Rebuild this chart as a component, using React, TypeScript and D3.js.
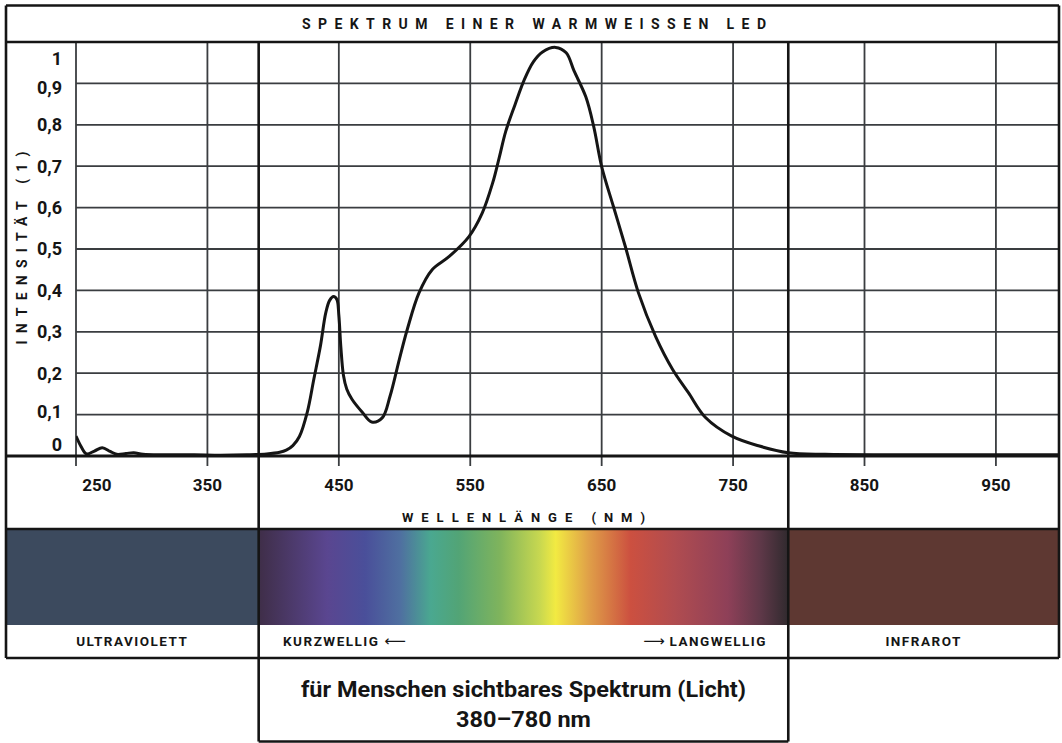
import React from 'react';
import * as d3 from 'd3';

// spectrum of a warm white LED
const wavelengths = [
	250, 254, 258, 264, 270, 276, 281, 288, 294, 301,
	320, 340, 360, 380, 395, 405, 410, 415, 420, 426,
	431, 436, 440, 443, 446, 448.5, 450, 451.5, 453.5, 456,
	460, 468, 475, 483, 489, 496, 502, 511, 521, 534,
	549, 559, 567, 572, 577, 584, 591, 598, 605, 615,
	623, 629, 638, 644, 650, 659, 668, 678, 691, 704,
	716, 729, 749, 770, 792, 820, 870, 920, 998,
];
const intensities = [
	0.048, 0.022, 0.005, 0.012, 0.02, 0.011, 0.004, 0.006, 0.008, 0.004,
	0.003, 0.003, 0.002, 0.003, 0.005, 0.009, 0.014, 0.025, 0.047, 0.106,
	0.186, 0.266, 0.345, 0.376, 0.385, 0.378, 0.34, 0.265, 0.195, 0.162,
	0.137, 0.105, 0.082, 0.092, 0.145, 0.233, 0.305, 0.394, 0.45, 0.482,
	0.53, 0.586, 0.659, 0.72, 0.784, 0.848, 0.908, 0.952, 0.976, 0.987,
	0.974, 0.93, 0.867, 0.795, 0.699, 0.602, 0.506, 0.394, 0.289, 0.209,
	0.153, 0.093, 0.048, 0.024, 0.008, 0.004, 0.003, 0.003, 0.003,
];

const xTicks = [250, 350, 450, 550, 650, 750, 850, 950];
const yTicks = [0, 0.1, 0.2, 0.3, 0.4, 0.5, 0.6, 0.7, 0.8, 0.9, 1];
const yTickLabels = ['0', '0,1', '0,2', '0,3', '0,4', '0,5', '0,6', '0,7', '0,8', '0,9', '1'];

// visible band as drawn in the picture
const visibleFrom = 389;
const visibleTo = 792;

const spectrumWl = [389, 441, 470, 497, 520, 541, 573, 603, 615, 640, 672, 706, 746, 771, 792];
const spectrumColors = [
	'#3f2e48', '#5a4690', '#4a4f9a', '#4f70a0', '#4aa890', '#52a476', '#80b45c', '#c8d850',
	'#f2ea42', '#e0a048', '#cc5040', '#b04c50', '#8e4058', '#5e3848', '#302a2e',
];

const W = 1062;
const H = 743;
const left = 6;
const right = 1059;
const top = 5.5;
const titleBottom = 42;
const axisY = 456;
const plotLeft = 76;
const barTop = 529;
const barBottom = 625;
const rowBottom = 658;
const boxBottom = 741.5;

const font = 'Roboto, sans-serif';
const ink = '#151515';
const grid = '#3a3d40';

export default function App() {
	const x = d3.scaleLinear().domain([250, 998]).range([plotLeft, right]);
	const y = d3.scaleLinear().domain([0, 1]).range([axisY, titleBottom]);

	const points: [number, number][] = wavelengths.map((w, i) => [w, intensities[i]]);
	const line = d3
		.line<[number, number]>()
		.x(d => x(d[0]))
		.y(d => y(d[1]))
		.curve(d3.curveCatmullRom.alpha(0.5));

	const vx0 = x(visibleFrom);
	const vx1 = x(visibleTo);
	const labelY = (v: number) => Math.max(59, Math.min(445, y(v) + (v === 0.9 ? 4 : v === 0.1 ? -3 : 0)));

	return (
		<svg width={W} height={H} style={{ position: 'absolute', left: 0, top: 0 }} fontFamily={font}>
			<defs>
				<linearGradient id="spec" gradientUnits="userSpaceOnUse" x1={vx0} x2={vx1} y1={0} y2={0}>
					{spectrumWl.map((w, i) => (
						<stop key={i} offset={(w - visibleFrom) / (visibleTo - visibleFrom)} stopColor={spectrumColors[i]} />
					))}
				</linearGradient>
				<clipPath id="plotclip">
					<rect x={plotLeft} y={titleBottom} width={right - plotLeft} height={axisY - titleBottom} />
				</clipPath>
			</defs>
			<rect x={0} y={0} width={W} height={H} fill="#fff" />

			{/* colour band */}
			<rect x={left} y={barTop} width={vx0 - left} height={barBottom - barTop} fill="#3c4a5e" />
			<rect x={vx0} y={barTop} width={vx1 - vx0} height={barBottom - barTop} fill="url(#spec)" />
			<rect x={vx1} y={barTop} width={right - vx1} height={barBottom - barTop} fill="#5e3832" />

			{/* grid */}
			{yTicks.filter(v => v > 0 && v < 1).map(v => (
				<line key={v} x1={plotLeft} x2={right} y1={y(v)} y2={y(v)} stroke={grid} strokeWidth={1.8} />
			))}
			{xTicks.map(t => (
				<line key={t} x1={x(t)} x2={x(t)} y1={titleBottom} y2={axisY + 10} stroke={grid} strokeWidth={1.8} />
			))}

			{/* curve */}
			<path d={line(points) || ''} fill="none" stroke={ink} strokeWidth={3} strokeLinejoin="round" clipPath="url(#plotclip)" />

			{/* frame */}
			<g stroke={ink} strokeWidth={2.6} fill="none">
				<line x1={left} x2={right} y1={top} y2={top} />
				<line x1={left} x2={right} y1={titleBottom} y2={titleBottom} />
				<line x1={left} x2={right} y1={axisY} y2={axisY} strokeWidth={3} />
				<line x1={left} x2={right} y1={barTop} y2={barTop} />
				<line x1={left} x2={right} y1={rowBottom} y2={rowBottom} />
				<line x1={vx0} x2={vx1} y1={boxBottom} y2={boxBottom} />
				<line x1={left} x2={left} y1={top} y2={rowBottom} />
				<line x1={right} x2={right} y1={top} y2={rowBottom} />
				<line x1={vx0} x2={vx0} y1={titleBottom} y2={boxBottom} />
				<line x1={vx1} x2={vx1} y1={titleBottom} y2={boxBottom} />
			</g>

			{/* title */}
			<text x={534} y={29} textAnchor="middle" fontSize={14} fontWeight={700} fill={ink} textLength={464} lengthAdjust="spacing">
				SPEKTRUM EINER WARMWEISSEN LED
			</text>

			{/* y axis */}
			{yTicks.map((v, i) => (
				<text key={v} x={62} y={labelY(v)} dy="0.35em" textAnchor="end" fontSize={18} fontWeight={700} fill={ink}>
					{yTickLabels[i]}
				</text>
			))}
			<text
				transform={`translate(27, 248) rotate(-90)`}
				textAnchor="middle"
				fontSize={14}
				fontWeight={700}
				fill={ink}
				textLength={193}
				lengthAdjust="spacing"
			>
				INTENSITÄT (1)
			</text>

			{/* x axis */}
			{xTicks.map((t, i) => (
				<text key={t} x={i === 0 ? x(t) + 21 : x(t)} y={490.5} textAnchor="middle" fontSize={17} fontWeight={700} fill={ink}>
					{t}
				</text>
			))}
			<text x={523.5} y={522} textAnchor="middle" fontSize={13} fontWeight={700} fill={ink} textLength={243} lengthAdjust="spacing">
				WELLENLÄNGE (NM)
			</text>

			{/* band labels */}
			<g fontSize={13.5} fontWeight={700} fill={ink} letterSpacing={1.5}>
				<text x={(left + vx0) / 2} y={646} textAnchor="middle">ULTRAVIOLETT</text>
				<text x={283} y={646}>
					KURZWELLIG{' '}
					<tspan fontFamily="'DejaVu Sans', sans-serif" fontWeight={400} fontSize={15} letterSpacing={0}>⟵</tspan>
				</text>
				<text x={767} y={646} textAnchor="end">
					<tspan fontFamily="'DejaVu Sans', sans-serif" fontWeight={400} fontSize={15} letterSpacing={0}>⟶</tspan>
					{' '}LANGWELLIG
				</text>
				<text x={(vx1 + right) / 2} y={646} textAnchor="middle">INFRAROT</text>
			</g>

			<text x={(vx0 + vx1) / 2} y={697} textAnchor="middle" fontSize={22} fontWeight={700} fill={ink} textLength={445} lengthAdjust="spacingAndGlyphs">
				für Menschen sichtbares Spektrum (Licht)
			</text>
			<text x={(vx0 + vx1) / 2} y={727} textAnchor="middle" fontSize={22} fontWeight={700} fill={ink} textLength={135} lengthAdjust="spacingAndGlyphs">
				380–780 nm
			</text>
		</svg>
	);
}
